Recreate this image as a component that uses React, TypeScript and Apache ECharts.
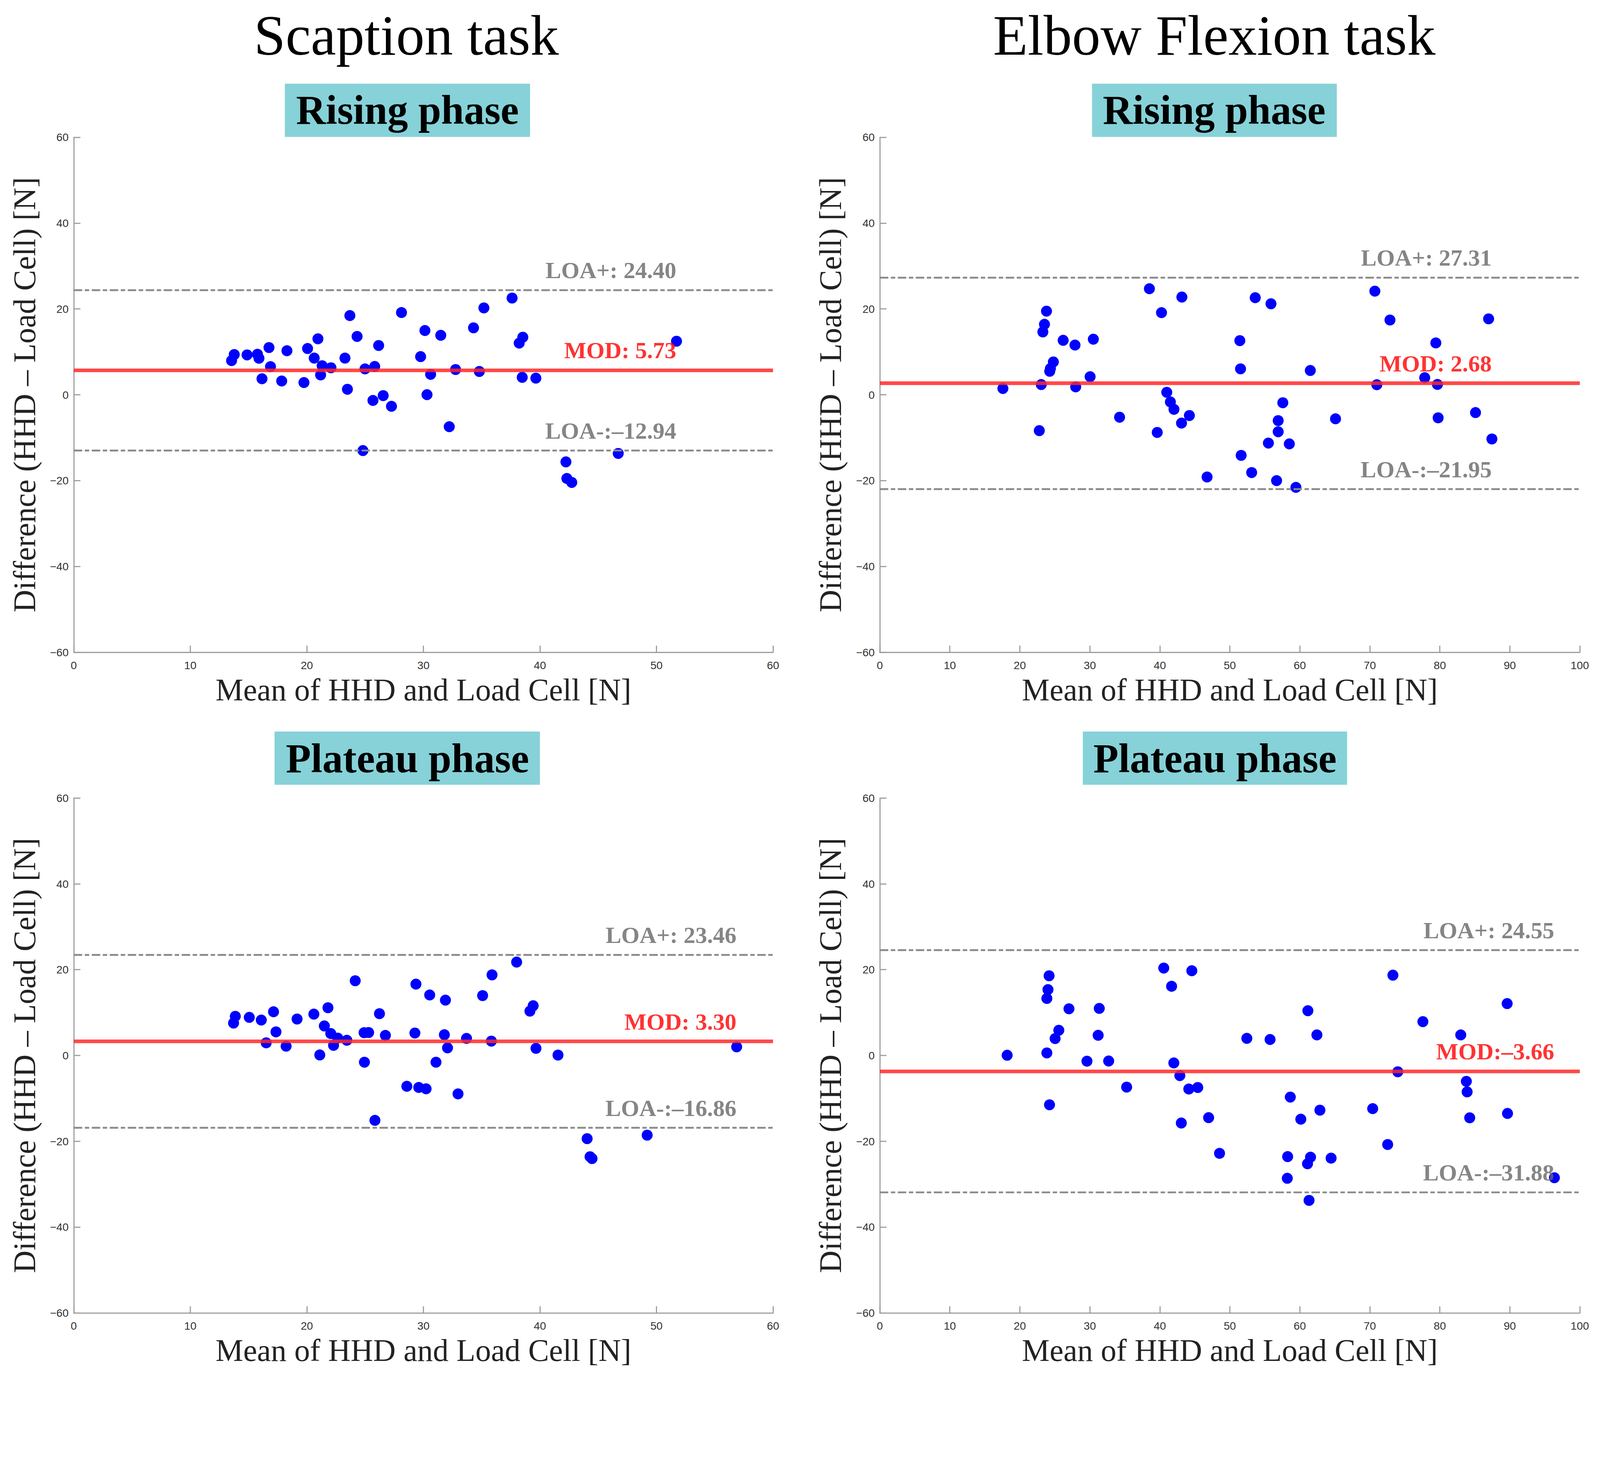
import React, { useEffect, useRef } from "react";
import * as echarts from "echarts";

const W = 4359;
const H = 3753;

// Scaption task — rising phase
const scapRisingX = [13.54, 13.77, 14.87, 15.76, 15.89, 16.75, 16.88, 16.15, 18.29, 17.84, 20.06, 19.75, 20.63, 20.95, 21.31, 21.18, 22.07, 23.27, 23.69, 23.48, 24.31, 24.99, 25.82, 26.16, 25.67, 26.55, 27.26, 28.12, 24.81, 29.76, 30.13, 30.31, 30.62, 31.49, 32.22, 32.76, 34.3, 34.8, 35.19, 37.61, 38.53, 38.22, 38.48, 39.65, 42.23, 42.31, 42.73, 46.72, 51.72];
const scapRisingY = [7.96, 9.37, 9.29, 9.44, 8.51, 11.0, 6.55, 3.73, 10.26, 3.21, 10.78, 2.84, 8.55, 13.04, 6.77, 4.62, 6.29, 8.55, 18.45, 1.28, 13.59, 6.03, 6.59, 11.48, -1.32, -0.2, -2.69, 19.16, -13.0, 8.89, 14.97, 0.02, 4.76, 13.86, -7.44, 5.88, 15.6, 5.43, 20.24, 22.54, 13.41, 12.04, 4.06, 3.88, -15.64, -19.5, -20.43, -13.67, 12.48];

// Elbow flexion task — rising phase
const elbRisingX = [17.58, 22.78, 23.06, 23.29, 23.52, 23.81, 24.27, 24.37, 24.79, 26.19, 27.88, 27.98, 30.04, 30.5, 34.25, 38.51, 39.63, 40.24, 40.99, 41.51, 42.02, 43.15, 43.1, 44.22, 46.75, 51.43, 51.53, 51.62, 53.12, 53.63, 55.51, 55.88, 56.68, 56.91, 56.91, 57.57, 58.5, 59.44, 61.5, 65.1, 70.72, 71.0, 72.88, 77.84, 79.43, 79.66, 79.76, 85.1, 86.97, 87.44];
const elbRisingY = [1.46, -8.36, 2.38, 14.64, 16.42, 19.49, 5.47, 6.12, 7.65, 12.69, 11.58, 1.84, 4.21, 12.95, -5.23, 24.71, -8.78, 19.14, 0.58, -1.67, -3.39, 22.77, -6.6, -4.84, -19.16, 12.61, 6.04, -14.12, -18.13, 22.62, -11.26, 21.2, -20.0, -6.02, -8.62, -1.86, -11.45, -21.57, 5.66, -5.6, 24.14, 2.34, 17.42, 3.98, 12.08, 2.41, -5.37, -4.15, 17.69, -10.3];

// Scaption task — plateau phase
const scapPlateauX = [13.71, 13.86, 15.06, 16.09, 16.51, 17.14, 17.35, 18.22, 19.16, 20.6, 21.11, 21.5, 21.81, 22.05, 22.29, 22.65, 23.43, 24.15, 24.91, 24.94, 25.3, 25.84, 26.23, 26.74, 28.58, 29.27, 29.36, 29.6, 30.23, 30.54, 31.08, 31.8, 31.89, 32.07, 32.97, 33.7, 35.08, 35.83, 35.89, 38.0, 39.14, 39.42, 39.66, 41.55, 44.05, 44.47, 44.3, 49.2, 56.88];
const scapPlateauY = [7.55, 9.12, 8.88, 8.25, 2.95, 10.18, 5.5, 2.16, 8.49, 9.63, 0.12, 6.88, 11.12, 5.11, 2.36, 4.05, 3.54, 17.41, 5.31, -1.57, 5.35, -15.12, 9.74, 4.68, -7.18, 5.23, 16.62, -7.45, -7.77, 14.1, -1.57, 4.83, 12.89, 1.77, -8.95, 3.97, 13.95, 3.34, 18.78, 21.76, 10.33, 11.59, 1.66, 0.09, -19.39, -24.03, -23.6, -18.57, 2.01];

// Elbow flexion task — plateau phase
const elbPlateauX = [18.19, 23.86, 23.86, 24.02, 24.18, 24.24, 25.04, 25.57, 27.02, 29.59, 31.19, 31.35, 32.69, 35.26, 40.56, 41.68, 42.0, 42.86, 43.07, 44.14, 44.57, 45.42, 46.97, 48.53, 52.43, 55.75, 58.21, 58.26, 58.64, 60.14, 61.15, 61.1, 61.53, 61.32, 62.44, 62.87, 64.47, 70.41, 72.55, 73.3, 74.0, 77.58, 82.99, 83.79, 83.9, 84.27, 89.62, 89.67, 96.37];
const elbPlateauY = [0.05, 0.59, 13.29, 15.35, 18.57, -11.49, 3.94, 5.87, 10.88, -1.33, 4.7, 10.97, -1.29, -7.37, 20.36, 16.12, -1.74, -4.69, -15.74, -7.82, 19.74, -7.47, -14.49, -22.81, 3.99, 3.72, -28.62, -23.57, -9.7, -14.85, 10.43, -25.23, -23.7, -33.77, 4.79, -12.75, -23.93, -12.39, -20.75, 18.71, -3.8, 7.88, 4.79, -6.03, -8.49, -14.53, 12.09, -13.51, -28.49];

// Bland–Altman statistics per panel
const loaPlus = [24.4, 27.31, 23.46, 24.55];
const meanDiff = [5.73, 2.68, 3.3, -3.66];
const loaMinus = [-12.94, -21.95, -16.86, -31.88];

const xMaxes = [60, 100, 60, 100];
const taskTitles = ["Scaption task", "Elbow Flexion task"];
const phaseTitles = ["Rising phase", "Rising phase", "Plateau phase", "Plateau phase"];
const xAxisTitle = "Mean of HHD and Load Cell [N]";
const yAxisTitle = "Difference (HHD – Load Cell) [N]";

const panelXs = [scapRisingX, elbRisingX, scapPlateauX, elbPlateauX];
const panelYs = [scapRisingY, elbRisingY, scapPlateauY, elbPlateauY];

// layout (pixels, in the 4359×3753 design space)
const gridBoxes = [
  { left: 201, top: 374, width: 1905, height: 1403 },
  { left: 2397, top: 374, width: 1907, height: 1403 },
  { left: 201, top: 2174, width: 1905, height: 1403 },
  { left: 2397, top: 2174, width: 1907, height: 1403 },
];
const phaseBoxes = [
  { x: 776, y: 228, w: 668, h: 145, cx: 1110, cy: 300 },
  { x: 2975, y: 228, w: 667, h: 145, cx: 3308, cy: 300 },
  { x: 748, y: 1993, w: 723, h: 145, cx: 1110, cy: 2066 },
  { x: 2950, y: 1993, w: 720, h: 145, cx: 3310, cy: 2066 },
];
const taskCenters = [1107, 3308];

const fmtVal = (v: number) => (v < 0 ? "–" + Math.abs(v).toFixed(2) : " " + v.toFixed(2));

function getScale() {
  if (typeof window === "undefined") return 1;
  const sw = window.innerWidth / W;
  const sh = window.innerHeight / H;
  const s = Math.min(sw, sh);
  return s > 0 ? s : 1;
}

export default function App() {
  const ref = useRef<HTMLDivElement>(null);
  const s = getScale();

  useEffect(() => {
    document.body.style.margin = "0";
    document.body.style.overflow = "hidden";
    if (!ref.current) return;
    const chart = echarts.init(ref.current, undefined, { renderer: "svg", width: W, height: H });

    const axisColor = "#9a9a9a";
    const grids = gridBoxes.map((g) => ({ ...g, containLabel: false }));

    const xAxes = xMaxes.map((mx, i) => ({
      gridIndex: i,
      type: "value",
      min: 0,
      max: mx,
      interval: 10,
      name: xAxisTitle,
      nameLocation: "middle",
      nameGap: 60,
      nameTextStyle: { fontFamily: "Liberation Serif", fontSize: 85, color: "#222" },
      axisLine: { show: true, onZero: false, lineStyle: { color: axisColor, width: 3 } },
      axisTick: { show: true, inside: true, length: 18, lineStyle: { color: axisColor, width: 3 } },
      axisLabel: { fontFamily: "Liberation Sans", fontSize: 30, color: "#333", margin: 20 },
      splitLine: { show: false },
    }));

    const yAxes = xMaxes.map((_, i) => ({
      gridIndex: i,
      type: "value",
      min: -60,
      max: 60,
      interval: 20,
      name: yAxisTitle,
      nameLocation: "middle",
      nameGap: 92,
      nameTextStyle: { fontFamily: "Liberation Serif", fontSize: 85, color: "#222" },
      axisLine: { show: true, onZero: false, lineStyle: { color: axisColor, width: 3 } },
      axisTick: { show: true, inside: true, length: 18, lineStyle: { color: axisColor, width: 3 } },
      axisLabel: {
        fontFamily: "Liberation Sans",
        fontSize: 30,
        color: "#333",
        margin: 14,
        formatter: (v: number) => String(v).replace("-", "−"),
      },
      splitLine: { show: false },
    }));

    const dashStyle = { color: "#8a8a8a", width: 5, type: [23, 7, 12, 7] };
    const series: any[] = [];
    panelXs.forEach((xs, i) => {
      const ys = panelYs[i];
      series.push({
        type: "scatter",
        xAxisIndex: i,
        yAxisIndex: i,
        data: xs.map((x, j) => [x, ys[j]]),
        symbol: "circle",
        symbolSize: 30,
        itemStyle: { color: "#0000FF", opacity: 1 },
        z: 2,
        markLine: {
          silent: true,
          symbol: "none",
          label: { show: false },
          data: [
            { yAxis: loaPlus[i], lineStyle: dashStyle },
            { yAxis: meanDiff[i], lineStyle: { color: "rgba(255,40,40,0.85)", width: 10, type: "solid" } },
            { yAxis: loaMinus[i], lineStyle: dashStyle },
          ],
        },
      });
      const xr = Math.max(...xs);
      const gray = { color: "#666666" };
      const red = { color: "#FF0000" };
      series.push({
        type: "scatter",
        xAxisIndex: i,
        yAxisIndex: i,
        silent: true,
        symbolSize: 1,
        itemStyle: { color: "rgba(0,0,0,0)" },
        z: 5,
        label: {
          show: true,
          position: "left",
          distance: 0,
          offset: [0, -54],
          fontFamily: "Liberation Serif",
          fontWeight: "bold",
          fontSize: 64,
        },
        data: [
          { value: [xr, loaPlus[i]], label: { ...gray, formatter: "LOA+:" + fmtVal(loaPlus[i]) } },
          { value: [xr, meanDiff[i]], label: { ...red, formatter: "MOD:" + fmtVal(meanDiff[i]) } },
          { value: [xr, loaMinus[i]], label: { ...gray, formatter: "LOA-:" + fmtVal(loaMinus[i]) } },
        ],
      });
    });

    const graphics: any[] = [];
    taskTitles.forEach((t, i) => {
      graphics.push({
        type: "text",
        x: taskCenters[i],
        y: 97,
        style: {
          text: t,
          fontFamily: "Liberation Serif",
          fontSize: 155,
          fill: "#000",
          align: "center",
          verticalAlign: "middle",
        },
      });
    });
    phaseBoxes.forEach((b, i) => {
      graphics.push({
        type: "rect",
        shape: { x: b.x, y: b.y, width: b.w, height: b.h },
        style: { fill: "#86D2D8" },
      });
      graphics.push({
        type: "text",
        x: b.cx,
        y: b.cy,
        style: {
          text: phaseTitles[i],
          fontFamily: "Liberation Serif",
          fontWeight: "bold",
          fontSize: 112,
          fill: "#000",
          align: "center",
          verticalAlign: "middle",
        },
      });
    });

    chart.setOption({
      animation: false,
      backgroundColor: "#ffffff",
      grid: grids,
      xAxis: xAxes,
      yAxis: yAxes,
      series,
      graphic: graphics,
    });

    return () => chart.dispose();
  }, []);

  return (
    <div style={{ width: W * s, height: H * s, overflow: "hidden", background: "#fff" }}>
      <div
        ref={ref}
        style={{ width: W, height: H, transform: `scale(${s})`, transformOrigin: "0 0" }}
      />
    </div>
  );
}
